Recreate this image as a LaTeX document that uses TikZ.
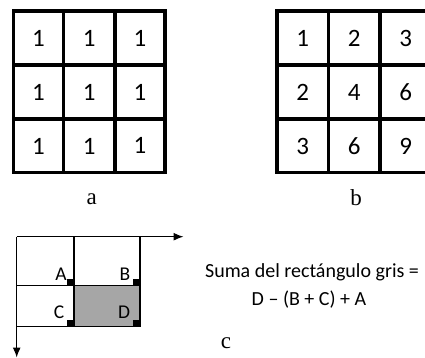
\documentclass[tikz,border=0pt]{standalone}
\usepackage{fontspec}
\usetikzlibrary{arrows.meta}
\newfontfamily\carl{Carlito}
\newfontfamily\timesf{Liberation Serif}
\definecolor{greyfill}{RGB}{166,166,166}
\tikzset{
  gridline/.style={line width=3.8pt},
  digit/.style={font=\carl\fontsize{25}{28}\selectfont, inner sep=0pt},
  caption/.style={font=\timesf\fontsize{23}{26}\selectfont, inner sep=0pt, anchor=base},
  corner/.style={font=\carl\fontsize{19.5}{22}\selectfont, inner sep=0pt},
  formula/.style={font=\carl\fontsize{20}{23}\selectfont, inner sep=0pt, anchor=base},
  thinline/.style={line width=1.1pt},
  axis/.style={line width=1.2pt, -{Latex[length=10pt,width=8pt]}},
  marker/.style={fill=black}
}
\begin{document}
\begin{tikzpicture}[x=1pt,y=-1pt]
\clip (0,0) rectangle (425,358);
\fill[white] (0,0) rectangle (425,358);
% grid a
\draw[gridline] (13.5,11) rectangle (165,172.5);
\draw[gridline] (63.5,11) -- (63.5,172.5) (115,11) -- (115,172.5);
\draw[gridline] (13.5,65) -- (165,65) (13.5,119) -- (165,119);
\node[digit] (a11) at (38.5,38.5) {1};
\node[digit] (a12) at (89.3,38.5) {1};
\node[digit] (a13) at (140,38.5) {1};
\node[digit] (a21) at (38.5,92.5) {1};
\node[digit] (a22) at (89.3,92.5) {1};
\node[digit] (a23) at (140,92.5) {1};
\node[digit] (a31) at (38.5,146.5) {1};
\node[digit] (a32) at (89.3,146.5) {1};
\node[digit] (a33) at (140,145) {1};
\node[caption] (la) at (91.7,204.5) {a};
% grid b
\draw[gridline] (277,11) rectangle (431.5,172.5);
\draw[gridline] (328.5,11) -- (328.5,172.5) (380,11) -- (380,172.5);
\draw[gridline] (277,65) -- (431.5,65) (277,119) -- (431.5,119);
\node[digit] (b11) at (302.7,38.5) {1};
\node[digit] (b12) at (354.2,38.5) {2};
\node[digit] (b13) at (405.7,38.5) {3};
\node[digit] (b21) at (302.7,92.5) {2};
\node[digit] (b22) at (354.2,92.5) {4};
\node[digit] (b23) at (405.7,92.5) {6};
\node[digit] (b31) at (302.7,146.5) {3};
\node[digit] (b32) at (354.2,146.5) {6};
\node[digit] (b33) at (405.7,146.5) {9};
\node[caption] (lb) at (356,205) {b};
% part c
\coordinate (O) at (16.7,236.7);
\coordinate (X) at (183.5,236.7);
\coordinate (Y) at (16.7,357.5);
\fill[greyfill] (74,285.7) rectangle (140,326.7);
\draw[thinline] (74,236.7) -- (74,326.7) (140,236.7) -- (140,326.7);
\draw[thinline] (16.7,285.7) -- (140,285.7) (16.7,326.7) -- (140,326.7);
\draw[axis] (O) -- (X);
\draw[axis] (O) -- (Y);
\fill[marker] (67,278.7) rectangle (74,285.7);
\fill[marker] (133,278.7) rectangle (140,285.7);
\fill[marker] (67,319.7) rectangle (74,326.7);
\fill[marker] (133,319.7) rectangle (140,326.7);
\node[corner] (A) at (61,274) {A};
\node[corner] (B) at (125,274) {B};
\node[corner] (C) at (59,312.5) {C};
\node[corner] (D) at (124,312.5) {D};
\node[formula] (f1) at (312,277.7) {Suma del rectángulo gris =};
\node[formula] (f2) at (309,305) {D – (B + C) + A};
\node[caption] (lc) at (226,348) {c};
\end{tikzpicture}
\end{document}
